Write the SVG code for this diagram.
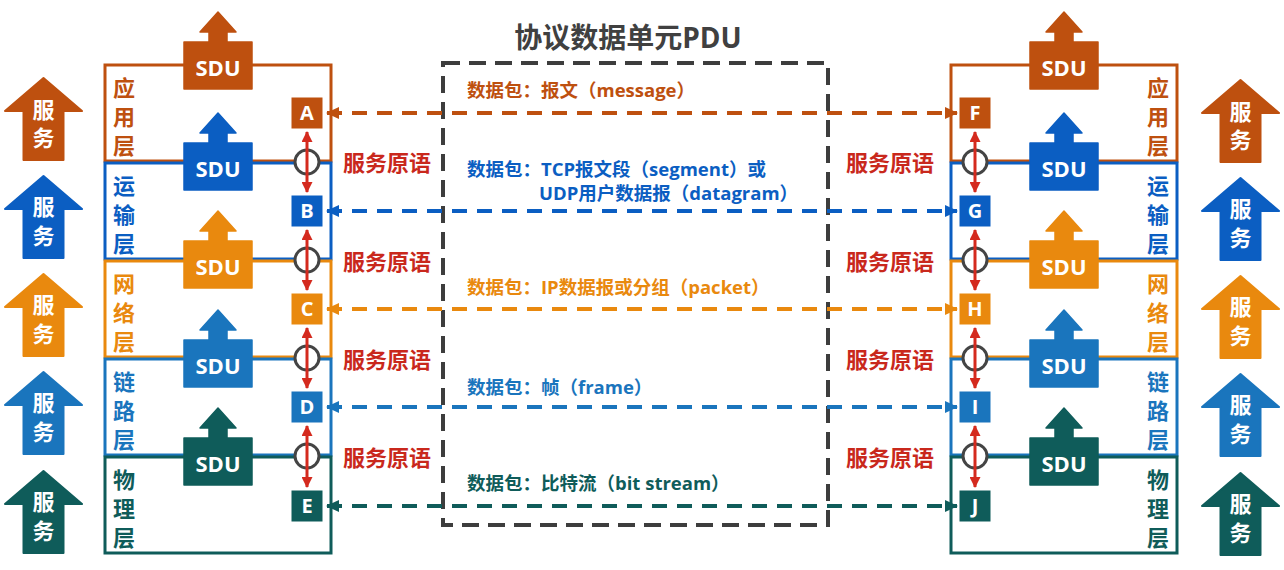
<svg xmlns="http://www.w3.org/2000/svg" xmlns:xlink="http://www.w3.org/1999/xlink" width="1284" height="570" viewBox="0 0 1284 570">
<style>
text{font-family:"Open Sans","Noto Sans CJK SC",sans-serif;font-weight:bold}
.lbl{font-size:22px;text-anchor:middle}
.svc{font-size:22px;text-anchor:middle;fill:#fff}
.sdu{font-size:22px;text-anchor:middle;fill:#fff}
.let{font-size:20px;text-anchor:middle;fill:#fff}
.prim{font-size:22px;text-anchor:middle;fill:#C9281C}
.pkt{font-size:18.5px}
.lay{fill:none;stroke-width:3}
.circ{fill:#fff;stroke:#444;stroke-width:3}
.red{stroke:#D42A1E;stroke-width:3;fill:none}
.dash{fill:none;stroke-width:4;stroke-dasharray:15 10}
.c1{fill:#BE500F;stroke:#BE500F}
.c2{fill:#0B5EC2;stroke:#0B5EC2}
.c3{fill:#E9890E;stroke:#E9890E}
.c4{fill:#1A75BD;stroke:#1A75BD}
.c5{fill:#0F5C5A;stroke:#0F5C5A}
.t1{fill:#BE500F}.t2{fill:#0B5EC2}.t3{fill:#E9890E}.t4{fill:#1A75BD}.t5{fill:#0F5C5A}
</style>
<defs>
<path id="sduShape" d="M -34 0 H -9 V -10 H -18 L 0 -30 L 18 -10 H 9 V 0 H 34 V 47 H -34 Z" stroke-width="1.5" stroke-linejoin="round"/>
<path id="svcShape" d="M 0 0 L 38.5 33 H 20 V 82 H -20 V 33 H -38.5 Z" stroke-width="2" stroke-linejoin="round"/>
<marker id="m1s" markerWidth="13" markerHeight="12" refX="1" refY="6" orient="auto" markerUnits="userSpaceOnUse"><path d="M13 0 L0 6 L13 12 Z" fill="#BE500F"/></marker>
<marker id="m1e" markerWidth="13" markerHeight="12" refX="12" refY="6" orient="auto" markerUnits="userSpaceOnUse"><path d="M0 0 L13 6 L0 12 Z" fill="#BE500F"/></marker>
<marker id="m2s" markerWidth="13" markerHeight="12" refX="1" refY="6" orient="auto" markerUnits="userSpaceOnUse"><path d="M13 0 L0 6 L13 12 Z" fill="#0B5EC2"/></marker>
<marker id="m2e" markerWidth="13" markerHeight="12" refX="12" refY="6" orient="auto" markerUnits="userSpaceOnUse"><path d="M0 0 L13 6 L0 12 Z" fill="#0B5EC2"/></marker>
<marker id="m3s" markerWidth="13" markerHeight="12" refX="1" refY="6" orient="auto" markerUnits="userSpaceOnUse"><path d="M13 0 L0 6 L13 12 Z" fill="#E9890E"/></marker>
<marker id="m3e" markerWidth="13" markerHeight="12" refX="12" refY="6" orient="auto" markerUnits="userSpaceOnUse"><path d="M0 0 L13 6 L0 12 Z" fill="#E9890E"/></marker>
<marker id="m4s" markerWidth="13" markerHeight="12" refX="1" refY="6" orient="auto" markerUnits="userSpaceOnUse"><path d="M13 0 L0 6 L13 12 Z" fill="#1A75BD"/></marker>
<marker id="m4e" markerWidth="13" markerHeight="12" refX="12" refY="6" orient="auto" markerUnits="userSpaceOnUse"><path d="M0 0 L13 6 L0 12 Z" fill="#1A75BD"/></marker>
<marker id="m5s" markerWidth="13" markerHeight="12" refX="1" refY="6" orient="auto" markerUnits="userSpaceOnUse"><path d="M13 0 L0 6 L13 12 Z" fill="#0F5C5A"/></marker>
<marker id="m5e" markerWidth="13" markerHeight="12" refX="12" refY="6" orient="auto" markerUnits="userSpaceOnUse"><path d="M0 0 L13 6 L0 12 Z" fill="#0F5C5A"/></marker>
<marker id="rs" markerWidth="11" markerHeight="11" refX="1" refY="5.5" orient="auto" markerUnits="userSpaceOnUse"><path d="M11 0 L0 5.5 L11 11 Z" fill="#D42A1E"/></marker>
<marker id="re" markerWidth="11" markerHeight="11" refX="10" refY="5.5" orient="auto" markerUnits="userSpaceOnUse"><path d="M0 0 L11 5.5 L0 11 Z" fill="#D42A1E"/></marker>
</defs>
<rect width="1284" height="570" fill="#fff"/>

<text x="628" y="48" font-size="28" fill="#404040" text-anchor="middle">协议数据单元PDU</text>

<g id="svc-left">
<use xlink:href="#svcShape" class="c1" x="43.5" y="78"/><text class="svc" x="43.5" y="118">服</text><text class="svc" x="43.5" y="146">务</text>
<use xlink:href="#svcShape" class="c2" x="43.5" y="176"/><text class="svc" x="43.5" y="215">服</text><text class="svc" x="43.5" y="244">务</text>
<use xlink:href="#svcShape" class="c3" x="43.5" y="274"/><text class="svc" x="43.5" y="313">服</text><text class="svc" x="43.5" y="342">务</text>
<use xlink:href="#svcShape" class="c4" x="43.5" y="372"/><text class="svc" x="43.5" y="411">服</text><text class="svc" x="43.5" y="440">务</text>
<use xlink:href="#svcShape" class="c5" x="43.5" y="471"/><text class="svc" x="43.5" y="510">服</text><text class="svc" x="43.5" y="539">务</text>
</g>
<g id="svc-right">
<use xlink:href="#svcShape" class="c1" x="1240.5" y="80"/><text class="svc" x="1240.5" y="120">服</text><text class="svc" x="1240.5" y="148">务</text>
<use xlink:href="#svcShape" class="c2" x="1240.5" y="178"/><text class="svc" x="1240.5" y="217">服</text><text class="svc" x="1240.5" y="246">务</text>
<use xlink:href="#svcShape" class="c3" x="1240.5" y="276"/><text class="svc" x="1240.5" y="315">服</text><text class="svc" x="1240.5" y="344">务</text>
<use xlink:href="#svcShape" class="c4" x="1240.5" y="374"/><text class="svc" x="1240.5" y="413">服</text><text class="svc" x="1240.5" y="442">务</text>
<use xlink:href="#svcShape" class="c5" x="1240.5" y="473"/><text class="svc" x="1240.5" y="512">服</text><text class="svc" x="1240.5" y="541">务</text>
</g>

<rect id="pdu-box" x="443" y="63" width="385" height="462" fill="none" stroke="#3d3d3d" stroke-width="4" stroke-dasharray="17 9"/>

<g id="left-stack">
<rect class="lay" stroke="#BE500F" x="105" y="65" width="226" height="96"/>
<rect class="lay" stroke="#0B5EC2" x="105" y="163" width="226" height="96"/>
<rect class="lay" stroke="#E9890E" x="105" y="261" width="226" height="96"/>
<rect class="lay" stroke="#1A75BD" x="105" y="359" width="226" height="96"/>
<rect class="lay" stroke="#0F5C5A" x="105" y="457" width="226" height="96"/>
<text class="lbl t1" x="124" y="96">应</text><text class="lbl t1" x="124" y="125">用</text><text class="lbl t1" x="124" y="154">层</text>
<text class="lbl t2" x="124" y="194">运</text><text class="lbl t2" x="124" y="223">输</text><text class="lbl t2" x="124" y="252">层</text>
<text class="lbl t3" x="124" y="292">网</text><text class="lbl t3" x="124" y="321">络</text><text class="lbl t3" x="124" y="350">层</text>
<text class="lbl t4" x="124" y="390">链</text><text class="lbl t4" x="124" y="419">路</text><text class="lbl t4" x="124" y="448">层</text>
<text class="lbl t5" x="124" y="488">物</text><text class="lbl t5" x="124" y="517">理</text><text class="lbl t5" x="124" y="546">层</text>
<use xlink:href="#sduShape" class="c1" x="218" y="42"/><text class="sdu" x="218" y="76">SDU</text>
<use xlink:href="#sduShape" class="c2" x="218" y="143"/><text class="sdu" x="218" y="177">SDU</text>
<use xlink:href="#sduShape" class="c3" x="218" y="241"/><text class="sdu" x="218" y="275">SDU</text>
<use xlink:href="#sduShape" class="c4" x="218" y="340"/><text class="sdu" x="218" y="374">SDU</text>
<use xlink:href="#sduShape" class="c5" x="218" y="438"/><text class="sdu" x="218" y="472">SDU</text>
</g>
<g id="node-A"><rect class="c1" x="292" y="98" width="30" height="30"/><text class="let" x="307" y="120">A</text></g>
<g id="node-B"><rect class="c2" x="292" y="196" width="30" height="30"/><text class="let" x="307" y="218">B</text></g>
<g id="node-C"><rect class="c3" x="292" y="294" width="30" height="30"/><text class="let" x="307" y="316">C</text></g>
<g id="node-D"><rect class="c4" x="292" y="392" width="30" height="30"/><text class="let" x="307" y="414">D</text></g>
<g id="node-E"><rect class="c5" x="292" y="491" width="30" height="30"/><text class="let" x="307" y="513">E</text></g>

<g id="right-stack">
<rect class="lay" stroke="#BE500F" x="951" y="65" width="226" height="96"/>
<rect class="lay" stroke="#0B5EC2" x="951" y="163" width="226" height="96"/>
<rect class="lay" stroke="#E9890E" x="951" y="261" width="226" height="96"/>
<rect class="lay" stroke="#1A75BD" x="951" y="359" width="226" height="96"/>
<rect class="lay" stroke="#0F5C5A" x="951" y="457" width="226" height="96"/>
<text class="lbl t1" x="1158" y="96">应</text><text class="lbl t1" x="1158" y="125">用</text><text class="lbl t1" x="1158" y="154">层</text>
<text class="lbl t2" x="1158" y="194">运</text><text class="lbl t2" x="1158" y="223">输</text><text class="lbl t2" x="1158" y="252">层</text>
<text class="lbl t3" x="1158" y="292">网</text><text class="lbl t3" x="1158" y="321">络</text><text class="lbl t3" x="1158" y="350">层</text>
<text class="lbl t4" x="1158" y="390">链</text><text class="lbl t4" x="1158" y="419">路</text><text class="lbl t4" x="1158" y="448">层</text>
<text class="lbl t5" x="1158" y="488">物</text><text class="lbl t5" x="1158" y="517">理</text><text class="lbl t5" x="1158" y="546">层</text>
<use xlink:href="#sduShape" class="c1" x="1064" y="42"/><text class="sdu" x="1064" y="76">SDU</text>
<use xlink:href="#sduShape" class="c2" x="1064" y="143"/><text class="sdu" x="1064" y="177">SDU</text>
<use xlink:href="#sduShape" class="c3" x="1064" y="241"/><text class="sdu" x="1064" y="275">SDU</text>
<use xlink:href="#sduShape" class="c4" x="1064" y="340"/><text class="sdu" x="1064" y="374">SDU</text>
<use xlink:href="#sduShape" class="c5" x="1064" y="438"/><text class="sdu" x="1064" y="472">SDU</text>
</g>
<g id="node-F"><rect class="c1" x="960" y="98" width="30" height="30"/><text class="let" x="975" y="120">F</text></g>
<g id="node-G"><rect class="c2" x="960" y="196" width="30" height="30"/><text class="let" x="975" y="218">G</text></g>
<g id="node-H"><rect class="c3" x="960" y="294" width="30" height="30"/><text class="let" x="975" y="316">H</text></g>
<g id="node-I"><rect class="c4" x="960" y="392" width="30" height="30"/><text class="let" x="975" y="414">I</text></g>
<g id="node-J"><rect class="c5" x="960" y="491" width="30" height="30"/><text class="let" x="975" y="513">J</text></g>

<g id="connectors">
<circle class="circ" cx="307" cy="162" r="12"/><circle class="circ" cx="307" cy="260" r="12"/><circle class="circ" cx="307" cy="358" r="12"/><circle class="circ" cx="307" cy="456" r="12"/>
<circle class="circ" cx="975" cy="162" r="12"/><circle class="circ" cx="975" cy="260" r="12"/><circle class="circ" cx="975" cy="358" r="12"/><circle class="circ" cx="975" cy="456" r="12"/>
<path class="red" d="M307 132 V192" marker-start="url(#rs)" marker-end="url(#re)"/>
<path class="red" d="M307 230 V290" marker-start="url(#rs)" marker-end="url(#re)"/>
<path class="red" d="M307 328 V388" marker-start="url(#rs)" marker-end="url(#re)"/>
<path class="red" d="M307 426 V487" marker-start="url(#rs)" marker-end="url(#re)"/>
<path class="red" d="M975 132 V192" marker-start="url(#rs)" marker-end="url(#re)"/>
<path class="red" d="M975 230 V290" marker-start="url(#rs)" marker-end="url(#re)"/>
<path class="red" d="M975 328 V388" marker-start="url(#rs)" marker-end="url(#re)"/>
<path class="red" d="M975 426 V487" marker-start="url(#rs)" marker-end="url(#re)"/>
<path class="dash" stroke="#BE500F" d="M327 113 H957" marker-start="url(#m1s)" marker-end="url(#m1e)"/>
<path class="dash" stroke="#0B5EC2" d="M327 211 H957" marker-start="url(#m2s)" marker-end="url(#m2e)"/>
<path class="dash" stroke="#E9890E" d="M327 309 H957" marker-start="url(#m3s)" marker-end="url(#m3e)"/>
<path class="dash" stroke="#1A75BD" d="M327 407 H957" marker-start="url(#m4s)" marker-end="url(#m4e)"/>
<path class="dash" stroke="#0F5C5A" d="M327 506 H957" marker-start="url(#m5s)" marker-end="url(#m5e)"/>
</g>

<g id="primitives">
<text class="prim" x="387" y="171">服务原语</text><text class="prim" x="387" y="270">服务原语</text><text class="prim" x="387" y="368">服务原语</text><text class="prim" x="387" y="466">服务原语</text>
<text class="prim" x="890" y="171">服务原语</text><text class="prim" x="890" y="270">服务原语</text><text class="prim" x="890" y="368">服务原语</text><text class="prim" x="890" y="466">服务原语</text>
</g>

<g id="pdu-labels">
<text class="pkt t1" x="467" y="97">数据包：报文（message）</text>
<text class="pkt t2" x="467" y="176">数据包：TCP报文段（segment）或</text>
<text class="pkt t2" x="539" y="200">UDP用户数据报（datagram）</text>
<text class="pkt t3" x="467" y="294">数据包：IP数据报或分组（packet）</text>
<text class="pkt t4" x="467" y="394">数据包：帧（frame）</text>
<text class="pkt t5" x="467" y="490">数据包：比特流（bit stream）</text>
</g>
</svg>
